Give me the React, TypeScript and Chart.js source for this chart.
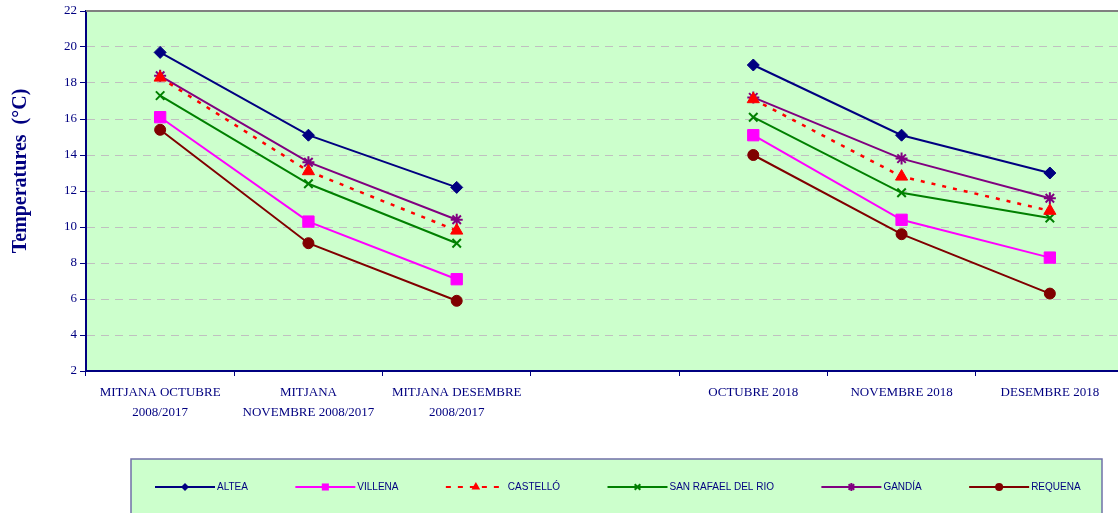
import { useEffect, useRef } from 'react';
import { Chart, registerables } from 'chart.js';

Chart.register(...registerables);

const categories: (string | string[])[] = [
  ['MITJANA OCTUBRE', '2008/2017'],
  ['MITJANA', 'NOVEMBRE 2008/2017'],
  ['MITJANA DESEMBRE', '2008/2017'],
  '',
  'OCTUBRE 2018',
  'NOVEMBRE 2018',
  'DESEMBRE 2018',
];

const seriesNames = ['ALTEA', 'VILLENA', 'CASTELLÓ', 'SAN RAFAEL DEL RIO', 'GANDÍA', 'REQUENA'];

const altea = [19.7, 15.1, 12.2, null, 19.0, 15.1, 13.0];
const villena = [16.1, 10.3, 7.1, null, 15.1, 10.4, 8.3];
const castello = [18.3, 13.1, 9.8, null, 17.1, 12.8, 10.9];
const sanRafael = [17.3, 12.4, 9.1, null, 16.1, 11.9, 10.5];
const gandia = [18.4, 13.6, 10.4, null, 17.2, 13.8, 11.6];
const requena = [15.4, 9.1, 5.9, null, 14.0, 9.6, 6.3];

const yMin = 2;
const yMax = 22;
const yStep = 2;

const yTitle = 'Temperatures  (°C)';

const NAVY = '#000080';

type Style = { color: string; point: string; radius: number; legendRadius: number; dash: number[] };
const styles: Style[] = [
  { color: '#000080', point: 'rectRot', radius: 6, legendRadius: 4, dash: [] },
  { color: '#FF00FF', point: 'rect', radius: 8, legendRadius: 5, dash: [] },
  { color: '#FF0000', point: 'triangle', radius: 7, legendRadius: 5, dash: [4, 7] },
  { color: '#008000', point: 'crossRot', radius: 6, legendRadius: 4, dash: [] },
  { color: '#800080', point: 'star', radius: 6, legendRadius: 4, dash: [] },
  { color: '#800000', point: 'circle', radius: 5.5, legendRadius: 4, dash: [] },
];

function drawMarker(ctx: CanvasRenderingContext2D, kind: string, x: number, y: number, r: number, color: string) {
  ctx.save();
  ctx.setLineDash([]);
  ctx.fillStyle = color;
  ctx.strokeStyle = color;
  ctx.lineWidth = 2;
  ctx.beginPath();
  if (kind === 'rectRot') {
    ctx.moveTo(x, y - r);
    ctx.lineTo(x + r, y);
    ctx.lineTo(x, y + r);
    ctx.lineTo(x - r, y);
    ctx.closePath();
    ctx.fill();
  } else if (kind === 'rect') {
    const s = r * Math.SQRT1_2;
    ctx.rect(x - s, y - s, 2 * s, 2 * s);
    ctx.fill();
  } else if (kind === 'triangle') {
    ctx.moveTo(x, y - r);
    ctx.lineTo(x + r * 0.87, y + r * 0.5);
    ctx.lineTo(x - r * 0.87, y + r * 0.5);
    ctx.closePath();
    ctx.fill();
  } else if (kind === 'crossRot') {
    const d = r * Math.SQRT1_2;
    ctx.moveTo(x - d, y - d);
    ctx.lineTo(x + d, y + d);
    ctx.moveTo(x + d, y - d);
    ctx.lineTo(x - d, y + d);
    ctx.stroke();
  } else if (kind === 'star') {
    const d = r * Math.SQRT1_2;
    ctx.moveTo(x - d, y - d);
    ctx.lineTo(x + d, y + d);
    ctx.moveTo(x + d, y - d);
    ctx.lineTo(x - d, y + d);
    ctx.moveTo(x, y - r);
    ctx.lineTo(x, y + r);
    ctx.stroke();
  } else {
    ctx.arc(x, y, r, 0, Math.PI * 2);
    ctx.fill();
  }
  ctx.restore();
}

const decorPlugin = {
  id: 'decor',
  beforeDraw(chart: any) {
    const { ctx, chartArea: a } = chart;
    ctx.save();
    ctx.fillStyle = '#CCFFCC';
    ctx.fillRect(a.left, a.top, a.right - a.left, a.bottom - a.top);
    ctx.restore();
  },
  afterDraw(chart: any) {
    const { ctx, chartArea: a } = chart;
    ctx.save();
    // top frame line
    ctx.strokeStyle = '#808080';
    ctx.lineWidth = 2;
    ctx.beginPath();
    ctx.moveTo(a.left, a.top);
    ctx.lineTo(a.right, a.top);
    ctx.stroke();

    // y title
    ctx.save();
    ctx.translate(21, 171);
    ctx.rotate(-Math.PI / 2);
    ctx.font = 'bold 20px "Liberation Serif", "Times New Roman", serif';
    ctx.fillStyle = NAVY;
    ctx.textAlign = 'center';
    ctx.textBaseline = 'middle';
    ctx.fillText(yTitle, 0, 0);
    ctx.restore();

    // legend box
    const bx = 131, by = 459, bw = 1102 - 131, bh = 70;
    ctx.fillStyle = '#CCFFCC';
    ctx.fillRect(bx, by, bw, bh);
    ctx.strokeStyle = '#7070A8';
    ctx.lineWidth = 1.5;
    ctx.strokeRect(bx, by, bw, bh);

    ctx.font = '10px "Liberation Sans", Arial, sans-serif';
    ctx.textBaseline = 'middle';
    ctx.textAlign = 'left';
    const ly = 487;
    let x = 155;
    const lineLen = 60;
    chart.data.datasets.forEach((ds: any, i: number) => {
      const st = styles[i];
      ctx.save();
      ctx.strokeStyle = st.color;
      ctx.lineWidth = 2;
      ctx.setLineDash(st.dash.length ? [5, 7] : []);
      ctx.beginPath();
      ctx.moveTo(x, ly);
      ctx.lineTo(x + lineLen, ly);
      ctx.stroke();
      ctx.restore();
      drawMarker(ctx, st.point, x + lineLen / 2, ly, st.legendRadius, st.color);
      ctx.fillStyle = NAVY;
      ctx.fillText(ds.label, x + lineLen + 2, ly + 0.5);
      const w = ctx.measureText(ds.label).width;
      x += lineLen + 2 + w + 47.4;
    });
    ctx.restore();
  },
};

export default function App() {
  const ref = useRef<HTMLCanvasElement | null>(null);
  useEffect(() => {
    document.body.style.margin = '0';
    const seriesData = [altea, villena, castello, sanRafael, gandia, requena];
    const chart = new Chart(ref.current as HTMLCanvasElement, {
      type: 'line',
      data: {
        labels: categories as any,
        datasets: seriesNames.map((name, i) => ({
          label: name,
          data: seriesData[i] as any,
          borderColor: styles[i].color,
          backgroundColor: styles[i].color,
          pointBorderColor: styles[i].color,
          pointBackgroundColor: styles[i].color,
          pointStyle: styles[i].point as any,
          pointRadius: styles[i].radius,
          pointBorderWidth: styles[i].point === 'crossRot' || styles[i].point === 'star' ? 2 : 1,
          borderWidth: i === 2 ? 2.5 : 2,
          borderDash: styles[i].dash,
          spanGaps: false,
          tension: 0,
          fill: false,
        })),
      },
      options: {
        responsive: false,
        animation: false,
        events: [],
        layout: { autoPadding: false, padding: { left: 0, right: 0, top: 11, bottom: 82 } },
        plugins: {
          legend: { display: false },
          tooltip: { enabled: false },
          title: { display: false },
        },
        scales: {
          x: {
            offset: true,
            grid: {
              offset: true,
              drawOnChartArea: false,
              drawTicks: true,
              tickLength: 5,
              color: NAVY,
              tickColor: NAVY,
              lineWidth: 1,
            },
            border: { display: true, color: NAVY, width: 2 },
            ticks: {
              color: NAVY,
              font: { family: '"Liberation Serif", "Times New Roman", serif', size: 13, lineHeight: 1.54 },
              padding: 7,
              maxRotation: 0,
              minRotation: 0,
              autoSkip: false,
            },
            afterFit: (s: any) => {
              s.height = 60;
              s.paddingLeft = 0;
              s.paddingRight = 0;
            },
          },
          y: {
            min: yMin,
            max: yMax,
            grid: {
              color: '#C0C0C0',
              lineWidth: 1,
              tickColor: NAVY,
              tickLength: 6,
              tickBorderDash: [],
            },
            border: { display: true, color: NAVY, width: 2, dash: [8, 6] },
            ticks: {
              stepSize: yStep,
              color: NAVY,
              font: { family: '"Liberation Serif", "Times New Roman", serif', size: 13 },
              padding: 3,
            },
            afterFit: (s: any) => {
              s.width = 86;
              s.paddingTop = 0;
              s.paddingBottom = 0;
            },
          },
        },
      },
      plugins: [decorPlugin],
    });
    return () => chart.destroy();
  }, []);
  return (
    <div style={{ position: 'absolute', left: 0, top: 0, width: 1118, height: 513, overflow: 'hidden' }}>
      <canvas ref={ref} width={1124} height={513} style={{ display: 'block' }} />
    </div>
  );
}
